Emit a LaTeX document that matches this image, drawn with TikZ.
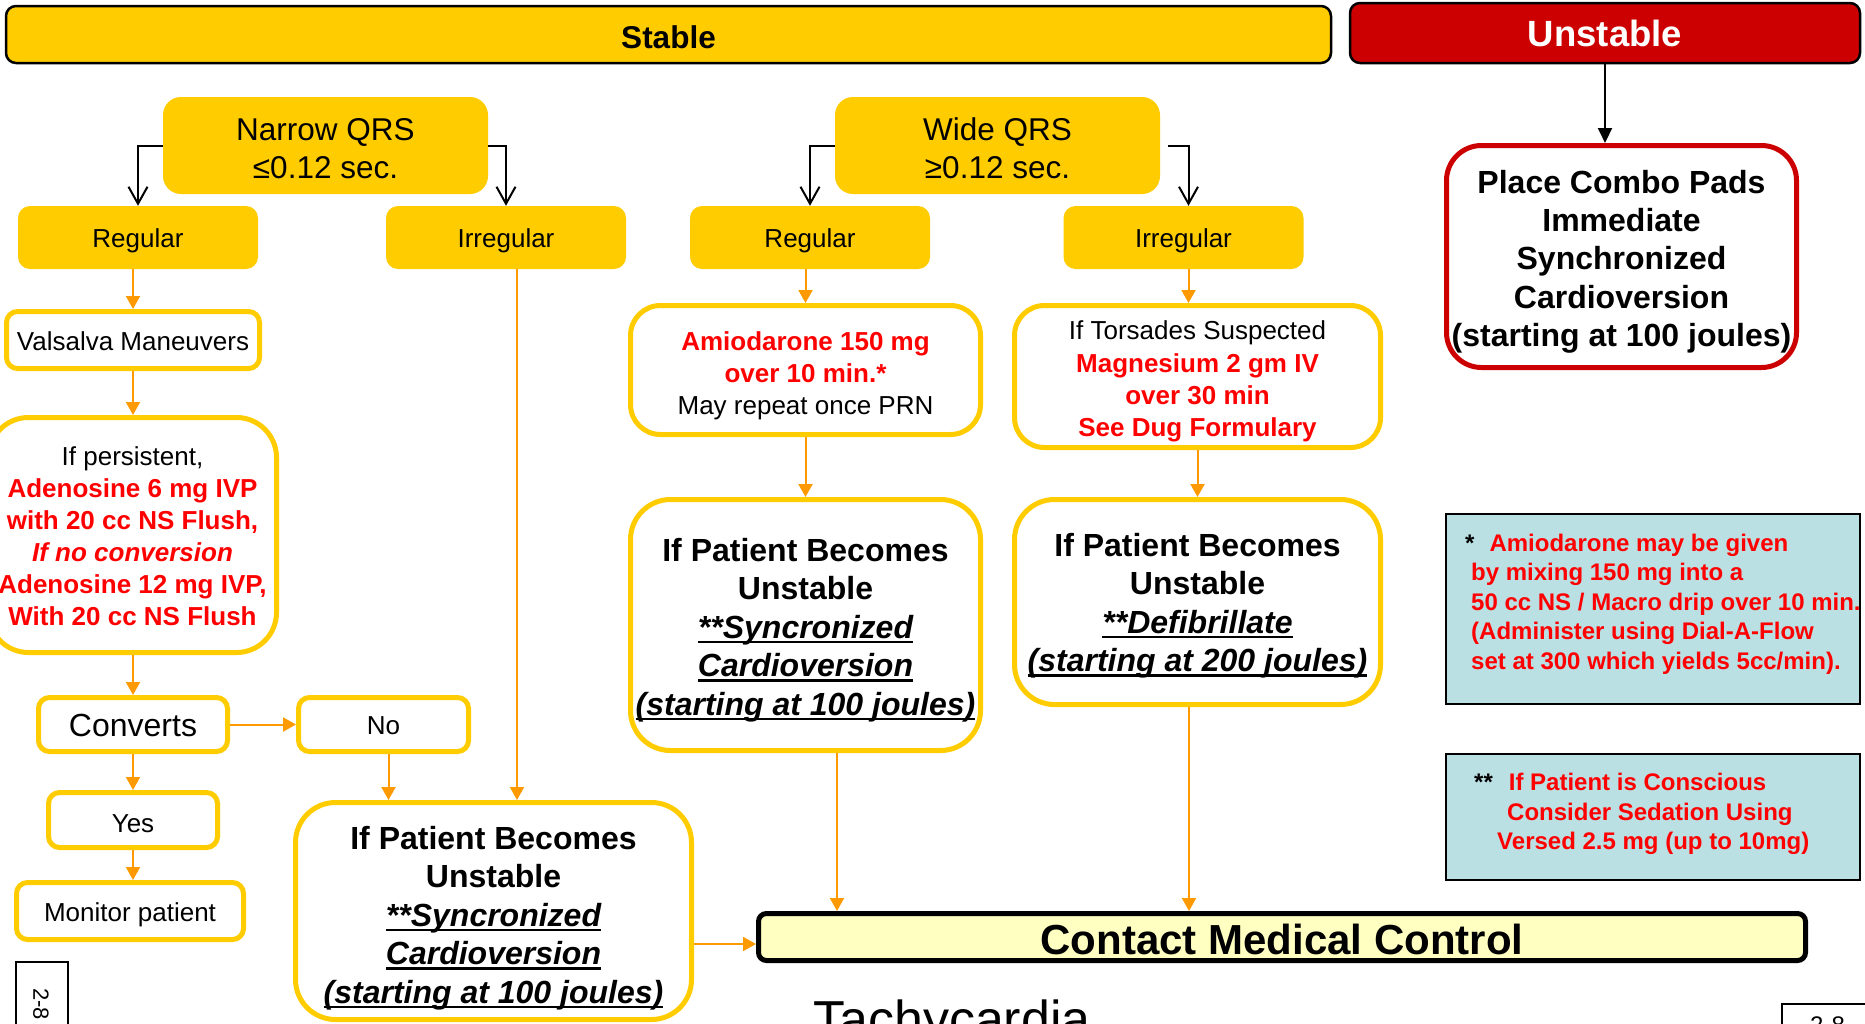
\documentclass[tikz,border=0pt]{standalone}
\usepackage{fontspec}
\setmainfont{Liberation Sans}
\usetikzlibrary{arrows.meta}

\definecolor{gold}{HTML}{FFCC00}
\definecolor{flow}{HTML}{FF9900}
\definecolor{alert}{HTML}{FF0000}
\definecolor{darkred}{HTML}{CC0000}
\definecolor{notefill}{HTML}{BBE0E3}
\definecolor{contactfill}{HTML}{FFFFC2}

% font size / baseline skip in one go
\newcommand{\fsz}[2]{\fontsize{#1}{#2}\selectfont}
% underline at a fixed depth below the baseline
\newcommand{\undl}[1]{\setbox0=\hbox{#1}\rlap{\rule[-5pt]{\wd0}{2.5pt}}\box0}
% invisible strut that sets the height of a first line
\newcommand{\tstrut}[1]{\rule{0pt}{#1}}

\begin{document}
\begin{tikzpicture}[x=1pt,y=-1pt,
  header/.style={draw=black, line width=2.5pt, rounded corners=10pt, inner sep=0pt},
  qrsbox/.style={fill=gold, rounded corners=18pt, inner sep=0pt, align=center,
                 minimum width=325pt, minimum height=97pt, font=\fsz{31.5}{38}},
  rhythm/.style={fill=gold, rounded corners=12pt, inner sep=0pt,
                 minimum width=240pt, minimum height=63pt, font=\fsz{26}{32}},
  smallbox/.style={draw=gold, line width=5pt, fill=white, rounded corners=11pt,
                   inner sep=0pt, align=center},
  bigbox/.style={draw=gold, line width=5pt, fill=white, rounded corners=40pt,
                 inner sep=0pt, align=center},
  notebox/.style={draw=black, line width=2pt, fill=notefill, inner sep=0pt},
  notetext/.style={inner sep=0pt, align=left, text=alert, font=\fsz{24}{29.5}\bfseries},
  flowarrow/.style={draw=flow, line width=2pt, -{Triangle[length=13pt,width=14pt]}},
  splitarrow/.style={draw=black, line width=2pt,
                     -{Straight Barb[length=17pt,width=19pt,line width=2pt]}},
  pagebox/.style={draw=black, line width=1.5pt, fill=white},
]
\useasboundingbox (0,0) rectangle (1865,1023);
\fill[white] (0,0) rectangle (1865,1023);
\clip (0,0) rectangle (1865,1023);

% ---------- headers ----------
\node[header, fill=gold, minimum width=1325pt, minimum height=57pt,
      font=\fsz{31.5}{36}\bfseries] (stable) at (668.5,34.5) {\tstrut{28pt}Stable};
\node[header, fill=darkred, text=white, minimum width=510pt, minimum height=60pt,
      font=\fsz{36.5}{40}\bfseries] (unstable) at (1605,33) {Unstable};

% ---------- QRS width ----------
\node[qrsbox] (narrow) at (325.5,145.5) {\tstrut{28pt}Narrow QRS\\≤0.12 sec.};
\node[qrsbox] (wide) at (997.5,145.5) {\tstrut{28pt}Wide QRS\\≥0.12 sec.};

\node[rhythm] (nreg) at (138,237.5) {\tstrut{26pt}Regular};
\node[rhythm] (nirr) at (506,237.5) {\tstrut{26pt}Irregular};
\node[rhythm] (wreg) at (810,237.5) {\tstrut{26pt}Regular};
\node[rhythm] (wirr) at (1183.5,237.5) {\tstrut{26pt}Irregular};

\draw[splitarrow] (narrow.west) -| (nreg.north);
\draw[splitarrow] (narrow.east) -| (nirr.north);
\draw[splitarrow] (wide.west) -| (wreg.north);
\draw[splitarrow] ([xshift=8pt]wide.east) -| ([xshift=5pt]wirr.north);

% ---------- narrow, regular ----------
\node[smallbox, minimum width=253pt, minimum height=57pt, font=\fsz{26}{32}]
  (valsalva) at (133,340) {\tstrut{21pt}Valsalva Maneuvers};
\node[bigbox, minimum width=288pt, minimum height=235pt, font=\fsz{26}{32}]
  (adenosine) at (132.5,535)
  {\tstrut{21pt}If persistent,\\
   \textcolor{alert}{\bfseries Adenosine 6 mg IVP}\\
   \textcolor{alert}{\bfseries with 20 cc NS Flush,}\\
   \textcolor{alert}{\bfseries\itshape If no conversion}\\
   \textcolor{alert}{\bfseries Adenosine 12 mg IVP,}\\
   \textcolor{alert}{\bfseries With 20 cc NS Flush}};
\node[smallbox, minimum width=189pt, minimum height=54pt, font=\fsz{32}{38}]
  (converts) at (133,724.5) {\tstrut{25pt}Converts};
\node[smallbox, minimum width=170pt, minimum height=54pt, font=\fsz{26}{32}]
  (no) at (383.5,724.5) {\tstrut{21pt}No};
\node[smallbox, minimum width=169pt, minimum height=55pt, font=\fsz{26}{32}]
  (yes) at (133,820) {\tstrut{26pt}Yes};
\node[smallbox, minimum width=227pt, minimum height=57pt, font=\fsz{26}{32}]
  (monitor) at (130,911) {\tstrut{26pt}Monitor patient};
\node[bigbox, minimum width=396pt, minimum height=217pt, font=\fsz{32}{38.5}]
  (pb1) at (493.5,911)
  {\tstrut{37.5pt}\bfseries If Patient Becomes\\
   \bfseries Unstable\\
   \undl{\bfseries\itshape **Syncronized}\\
   \undl{\bfseries\itshape Cardioversion}\\
   \undl{\bfseries\itshape (starting at 100 joules)}};

\draw[flowarrow] (valsalva.north |- nreg.south) -- (valsalva.north);
\draw[flowarrow] (valsalva.south) -- (valsalva.south |- adenosine.north);
\draw[flowarrow] (converts.north |- adenosine.south) -- (converts.north);
\draw[flowarrow] (converts.east) -- (no.west);
\draw[flowarrow] (converts.south) -- (yes.north);
\draw[flowarrow] (yes.south) -- (yes.south |- monitor.north);
\draw[flowarrow] ([xshift=5pt]no.south) -- ([xshift=5pt]no.south |- pb1.north);
\draw[flowarrow] ([xshift=11pt]nirr.south) -- ([xshift=11pt]nirr.south |- pb1.north);

% ---------- wide ----------
\node[bigbox, rounded corners=30pt, minimum width=350pt, minimum height=129pt,
      font=\fsz{26}{32}] (amio) at (805.5,370)
  {\tstrut{31pt}\textcolor{alert}{\bfseries Amiodarone 150 mg}\\
   \textcolor{alert}{\bfseries over 10 min.*}\\
   May repeat once PRN};
\node[bigbox, rounded corners=30pt, minimum width=366pt, minimum height=142pt,
      font=\fsz{26}{32.3}] (tors) at (1197.5,376.5)
  {\tstrut{29pt}If Torsades Suspected\\
   \textcolor{alert}{\bfseries Magnesium 2 gm IV}\\
   \textcolor{alert}{\bfseries over 30 min}\\
   \textcolor{alert}{\bfseries See Dug Formulary}};
\node[bigbox, minimum width=350pt, minimum height=251pt, font=\fsz{32}{38.5}]
  (pw1) at (805.5,625)
  {\tstrut{33.5pt}\bfseries If Patient Becomes\\
   \bfseries Unstable\\
   \undl{\bfseries\itshape **Syncronized}\\
   \undl{\bfseries\itshape Cardioversion}\\
   \undl{\bfseries\itshape (starting at 100 joules)}};
\node[bigbox, minimum width=366pt, minimum height=205pt, font=\fsz{32}{38.5}]
  (pw2) at (1197.5,602)
  {\tstrut{30.5pt}\bfseries If Patient Becomes\\
   \bfseries Unstable\\
   \undl{\bfseries\itshape **Defibrillate}\\
   \undl{\bfseries\itshape (starting at 200 joules)}};

\draw[flowarrow] (amio.north |- wreg.south) -- (amio.north);
\draw[flowarrow] ([xshift=5pt]wirr.south) -- ([xshift=5pt]wirr.south |- tors.north);
\draw[flowarrow] (amio.south) -- (pw1.north);
\draw[flowarrow] (tors.south) -- (pw2.north);

% ---------- contact medical control ----------
\node[draw=black, line width=5pt, fill=contactfill, rounded corners=8pt, inner sep=0pt,
      minimum width=1047pt, minimum height=47pt, font=\fsz{42}{46}\bfseries]
  (contact) at (1282,937) {\tstrut{36pt}Contact Medical Control};

\draw[flowarrow] ([xshift=31.5pt]pw1.south) -- ([xshift=31.5pt]pw1.south |- contact.north);
\draw[flowarrow] ([xshift=-8.5pt]pw2.south) -- ([xshift=-8.5pt]pw2.south |- contact.north);
\draw[flowarrow] ([yshift=-7pt]contact.west -| pb1.east) -- ([yshift=-7pt]contact.west);

% ---------- unstable branch ----------
\node[draw=darkred, line width=5pt, fill=white, rounded corners=35pt, inner sep=0pt,
      align=center, minimum width=350pt, minimum height=222pt, font=\fsz{32}{38.3}\bfseries]
  (combo) at (1621.5,256.5)
  {\tstrut{33.5pt}Place Combo Pads\\Immediate\\Synchronized\\Cardioversion\\(starting at 100 joules)};
\draw[draw=black, line width=2pt, -{Triangle[length=15pt,width=14pt]}]
  (unstable.south) -- (unstable.south |- combo.north);

% ---------- footnotes ----------
\node[notebox, minimum width=414pt, minimum height=190pt] (note1) at (1653,609) {};
\node[notetext, anchor=west] (note1text) at (1471,604)
  {\hspace*{-6pt}\textcolor{black}{*}\hspace*{15pt}Amiodarone may be given\\
   by mixing 150 mg into a\\
   50 cc NS / Macro drip over 10 min.\\
   (Administer using Dial-A-Flow\\
   set at 300 which yields 5cc/min).};

\node[notebox, minimum width=414pt, minimum height=126pt] (note2) at (1653,817) {};
\node[notetext, anchor=west] (note2text) at (1474,814)
  {\textcolor{black}{**}\hspace*{16pt}If Patient is Conscious\\
   \hspace*{33pt}Consider Sedation Using\\
   \hspace*{23pt}Versed 2.5 mg (up to 10mg)};

% ---------- page furniture ----------
\node[pagebox, minimum width=52pt, minimum height=80pt, anchor=north west, inner sep=0pt]
  (pageleft) at (15,961) {};
\node[rotate=-90, anchor=west, inner sep=0pt, font=\fsz{22}{26}] (pagelefttext)
  at (41,988) {2-8};
\node[anchor=base west, inner sep=0pt, font=\fsz{52}{60}] (title) at (813,1037) {Tachycardia};
\node[pagebox, minimum width=100pt, minimum height=50pt, anchor=north west, inner sep=0pt]
  (pageright) at (1781,1003) {};
\node[anchor=north west, inner sep=0pt, font=\fsz{24}{28}] (pagerighttext)
  at (1810,1017) {2-8};
\end{tikzpicture}
\end{document}
